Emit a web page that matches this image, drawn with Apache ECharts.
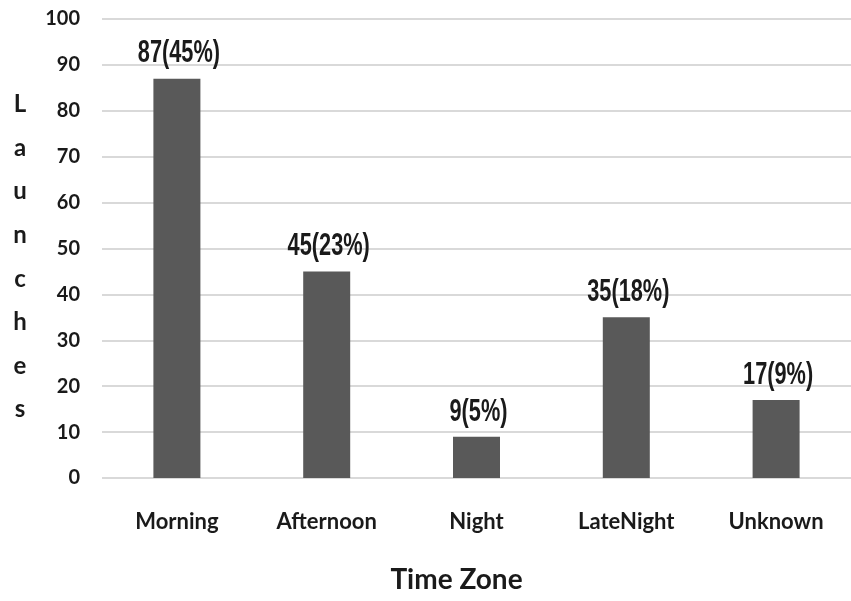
<!DOCTYPE html>
<html>
<head>
<meta charset="utf-8">
<script src="https://cdn.jsdelivr.net/npm/echarts@6/dist/echarts.min.js"></script>
<style>
  html, body { margin: 0; padding: 0; background: #ffffff; }
  #chart { width: 851px; height: 601px; }
</style>
</head>
<body>
<div id="chart"></div>
<script>
// Launch counts by time of day
const categories = ['Morning', 'Afternoon', 'Night', 'LateNight', 'Unknown'];
const launches = [87, 45, 9, 35, 17];
const shares = [45, 23, 5, 18, 9];
const yTicks = { min: 0, max: 100, interval: 10 };
const yTitle = 'Launches';

const sans = 'Lato, "Open Sans", "Noto Sans", sans-serif';
const textColor = '#1a1a1a';

const chart = echarts.init(document.getElementById('chart'), null, { renderer: 'canvas' });

chart.setOption({
  backgroundColor: '#ffffff',
  animation: false,
  grid: { left: 102, right: -4, top: 19, bottom: 123, containLabel: false },
  xAxis: {
    type: 'category',
    data: categories,
    axisLine: { show: false },
    axisTick: { show: false },
    axisLabel: {
      margin: 33,
      color: textColor,
      fontFamily: sans,
      fontWeight: 'bold',
      fontSize: 22
    },
    name: 'Time Zone',
    nameLocation: 'middle',
    nameGap: 88,
    nameTextStyle: {
      color: textColor,
      fontFamily: sans,
      fontWeight: 'bold',
      fontSize: 28,
      padding: [0, 40, 0, 0]
    }
  },
  yAxis: {
    type: 'value',
    min: yTicks.min,
    max: yTicks.max,
    interval: yTicks.interval,
    axisLine: { show: false },
    axisTick: { show: false },
    splitLine: { lineStyle: { color: '#d9d9d9', width: 2 } },
    axisLabel: {
      margin: 22,
      color: textColor,
      fontFamily: sans,
      fontWeight: 'bold',
      fontSize: 20
    }
  },
  // vertical, letter-stacked axis title
  graphic: [{
    type: 'text',
    x: 20,
    y: 257,
    style: {
      text: yTitle.split('').join('\n'),
      fill: textColor,
      font: 'bold 24px ' + sans,
      lineHeight: 43.6,
      textAlign: 'center',
      textVerticalAlign: 'middle'
    }
  }],
  series: [{
    type: 'bar',
    data: launches,
    barWidth: 47,
    itemStyle: { color: '#595959' },
    z: 2
  }, {
    // tall, narrow value labels above each bar
    type: 'custom',
    data: launches.map((v, i) => [i, v]),
    clip: false,
    z: 3,
    renderItem: (params, api) => {
      const pt = api.coord([api.value(0), api.value(1)]);
      const i = params.dataIndex;
      return {
        type: 'text',
        x: pt[0] + 2,
        y: pt[1] - 9,
        scaleX: 0.68,
        style: {
          text: launches[i] + '(' + shares[i] + '%)',
          fill: textColor,
          font: 'bold 32px "Liberation Sans", Arial, sans-serif',
          textAlign: 'center',
          textVerticalAlign: 'bottom'
        }
      };
    }
  }]
});
</script>
</body>
</html>
